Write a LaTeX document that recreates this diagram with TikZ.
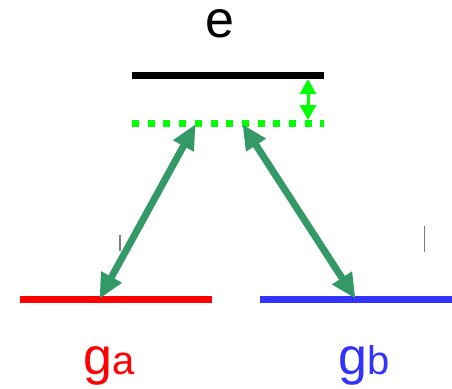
\documentclass[tikz,border=0pt]{standalone}
\usepackage{fontspec}
\setmainfont{Liberation Sans}
\usetikzlibrary{arrows.meta,positioning}
\definecolor{lvla}{HTML}{FF0000}
\definecolor{lvlb}{HTML}{3333FF}
\definecolor{virt}{HTML}{00FF00}
\definecolor{beam}{HTML}{339966}

\begin{document}
\begin{tikzpicture}[x=1pt, y=-1pt,
    level/.style={line width=7pt},
    beamarrow/.style={beam, line width=7pt, {Triangle[length=25pt,width=22pt]}-{Triangle[length=25pt,width=22pt]}, shorten <=-1pt, shorten >=-1pt},
    biglabel/.style={font=\fontsize{52}{52}\selectfont, inner sep=0pt, anchor=base, text height=0.56em}]
        \useasboundingbox (0,0) rectangle (452,388);
        % energy levels
        \coordinate (eL) at (132,75.5);   \coordinate (eR) at (324,75.5);
        \coordinate (vL) at (132,123.5);  \coordinate (vR) at (324,123.5);
        \coordinate (aL) at (20,299.5);   \coordinate (aR) at (212,299.5);
        \coordinate (bL) at (260,299.5);  \coordinate (bR) at (452,299.5);
        \draw[level, black] (eL) -- (eR);
        \draw[level, virt, dash pattern=on 7pt off 8.7pt] (vL) -- (vR);
        \draw[level, lvla] (aL) -- (aR);
        \draw[level, lvlb] (bL) -- (bR);
        % detuning
        \coordinate (dT) at (308,79);  \coordinate (dB) at (308,120);
        \draw[virt, line width=3pt, {Triangle[length=15pt,width=16pt]}-{Triangle[length=15pt,width=16pt]}] (dT) -- (dB);
        % couplings
        \coordinate (pa) at (195,125);  \coordinate (qa) at (100,298);
        \coordinate (pb) at (243,125);  \coordinate (qb) at (355,298);
        \draw[beamarrow] (pa) -- (qa);
        \draw[beamarrow] (pb) -- (qb);
        % stray marks
        \draw[gray, line width=1.5pt] (120,235) -- (120,251);
        \draw[gray, line width=1.2pt] (424.5,226) -- (424.5,252);
        % labels
        \node[biglabel] (e) at (220,37) {e};
        \node[biglabel, lvla] (ga) at (109,374) {g{\fontsize{40}{40}\selectfont a}};
        \node[biglabel, lvlb] (gb) at (364,374) {g{\fontsize{40}{40}\selectfont b}};
      \end{tikzpicture}
\end{document}
